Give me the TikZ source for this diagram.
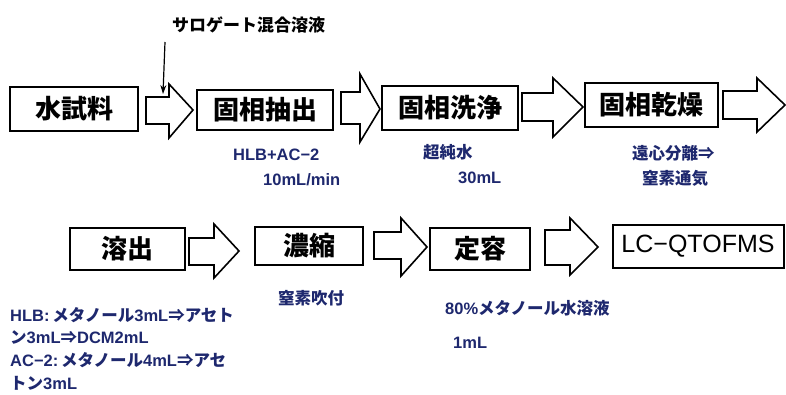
\documentclass[tikz,border=0pt]{standalone}
\usepackage{fontspec}
\usetikzlibrary{arrows.meta}
\setmainfont{Noto Sans CJK JP}
\newfontfamily\arl{Liberation Sans}
\newcommand{\lat}[1]{{\arl\bfseries #1}}
\definecolor{navy}{RGB}{30,40,110}
\begin{document}
\begin{tikzpicture}[x=1pt,y=-1pt,
  box/.style={draw=black,line width=2pt,minimum width=#1,inner sep=0pt,font=\bfseries\fontsize{26}{26}\selectfont},
  barrow/.style={draw=black,line width=1.6pt,fill=white,line join=miter},
  sub/.style={anchor=west,inner sep=0pt,text=navy,font=\bfseries\fontsize{16.5}{16.5}\selectfont},
  blk/.style={anchor=west,inner sep=0pt,text=black,font=\bfseries\fontsize{17}{17}\selectfont}]
\useasboundingbox (0,0) rectangle (786,394);
% top row boxes
\node[box=128pt,minimum height=44pt] (b1) at (74,109) {水試料};
\node[box=136pt,minimum height=40pt] (b2) at (265,110) {固相抽出};
\node[box=136pt,minimum height=44pt] (b3) at (450,108) {固相洗浄};
\node[box=133pt,minimum height=44pt] (b4) at (651.5,105) {固相乾燥};
% bottom row boxes
\node[box=115pt,minimum height=42pt] (b5) at (127.5,249) {溶出};
\node[box=108pt,minimum height=38pt] (b6) at (309,246) {濃縮};
\node[box=100pt,minimum height=42pt] (b7) at (480,249) {定容};
\node[box=171pt,minimum height=43pt,font=\arl\fontsize{25}{25}\selectfont] (b8) at (698,246.5) {LC−QTOFMS};
% block arrows
\draw[barrow] (146,97) -- (169,97) -- (169,84) -- (193,110) -- (169,138) -- (169,124) -- (146,124) -- cycle;
\draw[barrow] (341,92) -- (360,92) -- (360,74) -- (380,109) -- (360,142) -- (360,124) -- (341,124) -- cycle;
\draw[barrow] (522,93) -- (553,93) -- (553,78) -- (583,107) -- (553,137) -- (553,121) -- (522,121) -- cycle;
\draw[barrow] (723,91) -- (757,91) -- (757,78) -- (785,105) -- (757,132) -- (757,119) -- (723,119) -- cycle;
\draw[barrow] (189,238) -- (214,238) -- (214,224) -- (239,251) -- (214,278) -- (214,265) -- (189,265) -- cycle;
\draw[barrow] (374,232) -- (401,232) -- (401,218) -- (427,247) -- (401,276) -- (401,259) -- (374,259) -- cycle;
\draw[barrow] (545,230) -- (570,230) -- (570,218) -- (598,247) -- (570,275) -- (570,265) -- (545,265) -- cycle;
% surrogate
\node[blk] (sur) at (172,25) {サロゲート混合溶液};
\coordinate (s0) at (165,42);
\coordinate (s1) at (163,94);
\draw[line width=1.2pt,-{Stealth[length=9pt,width=6pt]}] (s0) -- (s1);
% sub labels
\node[sub] (l1) at (233,155) {\lat{HLB+AC−2}};
\node[sub] (l2) at (263,180) {\lat{10mL/min}};
\node[sub] (l3) at (423,152) {超純水};
\node[sub] (l4) at (458,178) {\lat{30mL}};
\node[sub] (l5) at (632,153) {遠心分離⇒};
\node[sub] (l6) at (642,178) {窒素通気};
\node[sub] (l7) at (10,315) {\lat{HLB:}\,メタノール\lat{3mL}⇒アセト};
\node[sub] (l8) at (10,337) {ン\lat{3mL}⇒\lat{DCM2mL}};
\node[sub] (l9) at (10,360) {\lat{AC−2:}\,メタノール\lat{4mL}⇒アセ};
\node[sub] (l10) at (10,383) {トン\lat{3mL}};
\node[sub] (l11) at (278,298) {窒素吹付};
\node[sub] (l12) at (445,308) {\lat{80\%}メタノール水溶液};
\node[sub] (l13) at (453,343) {\lat{1mL}};
\end{tikzpicture}
\end{document}
